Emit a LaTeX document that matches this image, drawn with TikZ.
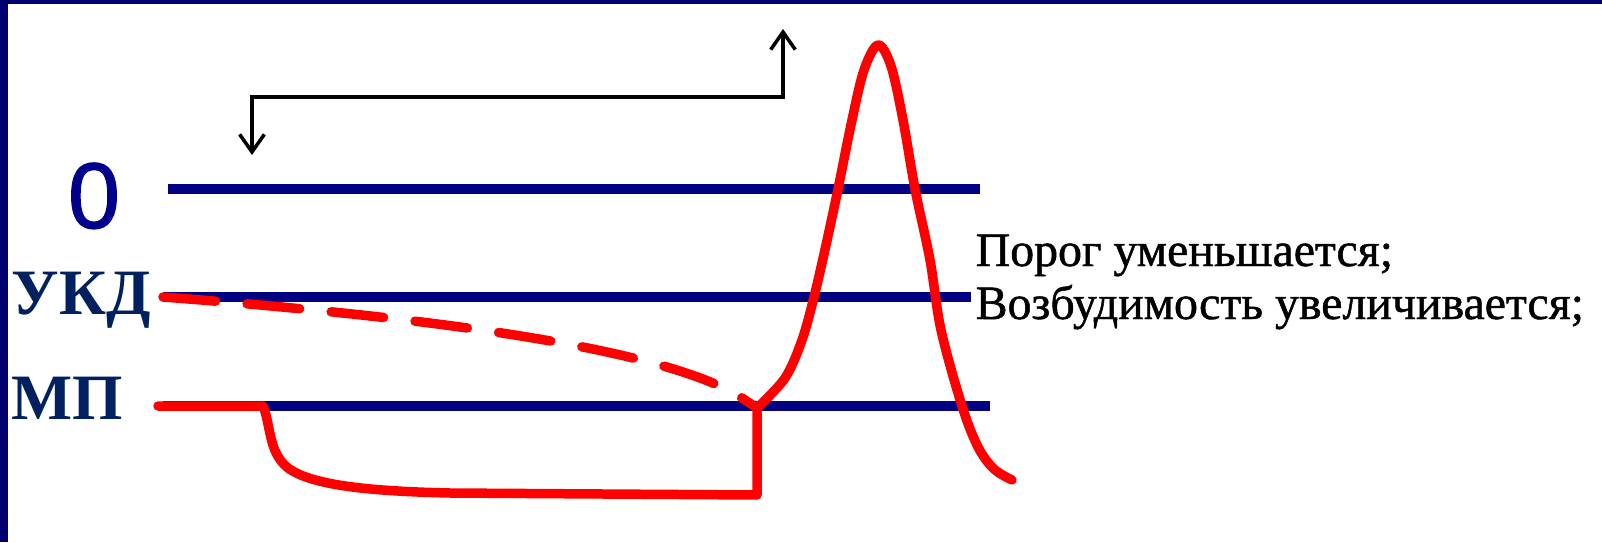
\documentclass[tikz,border=0pt]{standalone}
\usepackage{fontspec}
\setmainfont{Liberation Serif}
\newfontfamily\digitsans[FakeBold=1.5]{Liberation Sans}
\newfontfamily\notefont[FakeBold=1]{Liberation Serif}
\usetikzlibrary{arrows.meta}

\definecolor{framenavy}{RGB}{0,0,112}
\definecolor{levelnavy}{RGB}{0,0,128}
\definecolor{labelnavy}{RGB}{0,32,96}
\definecolor{zeroblue}{RGB}{0,0,140}

\begin{document}
\begin{tikzpicture}[x=0.01cm,y=-0.01cm,
    levelline/.style={levelnavy, line width=2.6pt},
    pulse/.style={red, line width=2.7pt, line cap=round, line join=round},
    stimarrow/.style={<->, >={Straight Barb[length=5pt,width=7pt]}, line width=1pt},
    levellabel/.style={labelnavy, font={\fontsize{18.4}{21}\selectfont\bfseries}, inner sep=0pt, anchor=base west},
    notetext/.style={font={\notefont\fontsize{13.6}{15}\selectfont}, inner sep=0pt, anchor=base west}]

\useasboundingbox (0,0) rectangle (1602,542);
\fill[white] (0,0) rectangle (1602,542);

% Frame
\fill[framenavy] (0,0) rectangle (1602,4);
\fill[framenavy] (0,0) rectangle (8,542);

% Levels
\draw[levelline] (168,189) -- (980,189);
\draw[levelline] (163,297) -- (971,297);
\draw[levelline] (163,406) -- (990,406);

% Level labels
\node[zeroblue, font={\digitsans\fontsize{26.5}{30}\selectfont}, inner sep=0pt, anchor=base] (zero) at (94,228) {0};
\node[levellabel] (ukd) at (11,314) {УКД};
\node[levellabel] (mp) at (11,419) {МП};

% Stimulus
\coordinate (onset) at (252,155);
\coordinate (corner) at (783,97);
\coordinate (offset) at (783,29);
\draw[stimarrow] (onset) |- (corner) -- (offset);

% Threshold shift
\draw[pulse, dash pattern=on 15pt off 9pt]
    (163,297) .. controls (400,315) and (660,345) .. (742,398);

% Membrane potential
\draw[pulse] (158,406) -- (263,406)
    .. controls (271,425) and (268,452) .. (288,468)
    .. controls (310,484) and (360,491) .. (450,493)
    -- (757,495) -- (757,408);

% Action potential
\draw[pulse] (742,398) -- plot[smooth, tension=0.55] coordinates {
    (757,408) (785,378) (802,340) (814,297) (826,245) (838,189)
    (852,120) (864,70) (878,45) (891,66) (903,120) (915,189)
    (930,260) (941,330) (962,406) (978,447) (994,469) (1012,480)};

% Notes
\node[notetext] (note1) at (975,266) {Порог уменьшается;};
\node[notetext] (note2) at (975,319) {Возбудимость увеличивается;};

\end{tikzpicture}
\end{document}
